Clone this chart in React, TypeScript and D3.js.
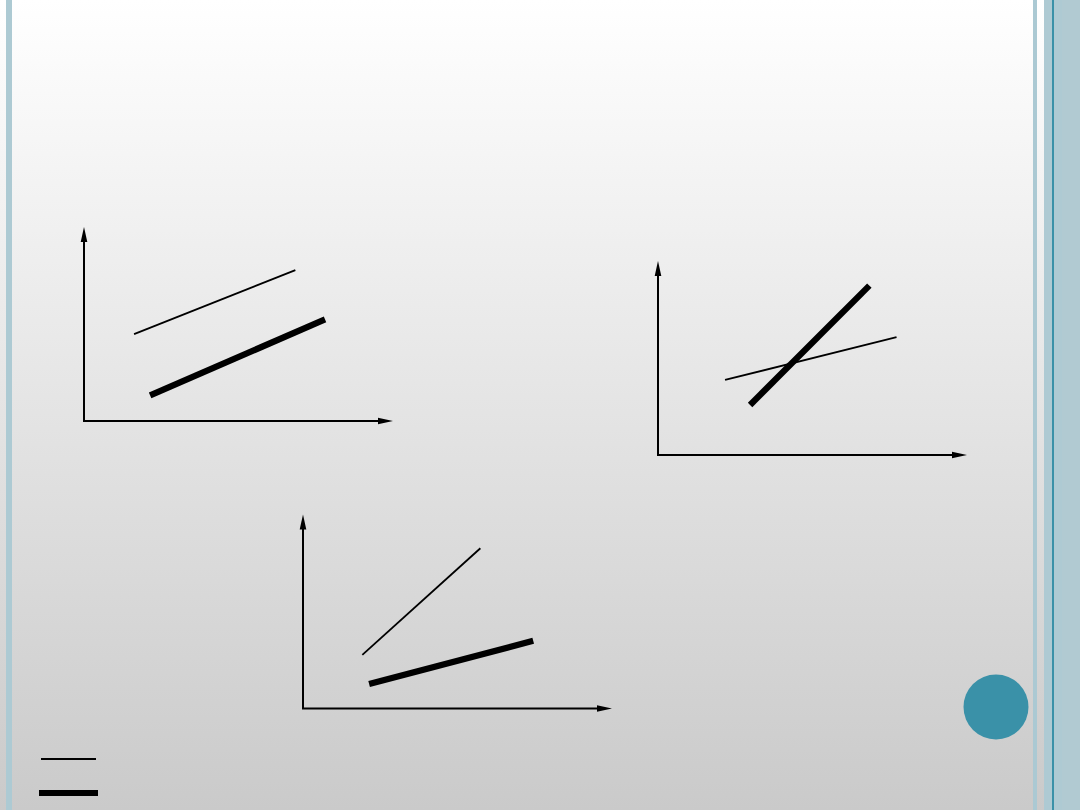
import * as d3 from "d3"

// each panel: axes run 0..10 on both x and y
const axisDomain: [number, number] = [0, 10]

// thin series per panel: [start, end] in axis units
const thinLines: [number, number][][] = [
  [[1.62, 4.48], [6.84, 7.78]],
  [[2.17, 3.87], [7.72, 6.07]],
  [[1.92, 2.76], [5.74, 8.26]],
]

// thick series per panel
const thickLines: [number, number][][] = [
  [[2.14, 1.32], [7.8, 5.24]],
  [[2.98, 2.58], [6.84, 8.73]],
  [[2.14, 1.26], [7.45, 3.49]],
]

const W = 1080
const H = 810

// layout: axis origin of each panel on the slide
const panelOrigins = [
  { x: 84, y: 421 },
  { x: 658, y: 455 },
  { x: 303, y: 708.5 },
]
const panelW = 309
const panelH = 194

const ARROW_LEN = 15
const ARROW_HALF = 3.3

function Panel({ idx }: { idx: number }) {
  const o = panelOrigins[idx]
  const x = d3.scaleLinear().domain(axisDomain).range([o.x, o.x + panelW])
  const y = d3.scaleLinear().domain(axisDomain).range([o.y, o.y - panelH])
  const line = d3.line<[number, number]>()
    .x(d => x(d[0]))
    .y(d => y(d[1]))

  const x0 = x(axisDomain[0])
  const x1 = x(axisDomain[1])
  const y0 = y(axisDomain[0])
  const y1 = y(axisDomain[1])

  return (
    <g>
      {/* y axis */}
      <line x1={x0} y1={y0} x2={x0} y2={y1 + ARROW_LEN - 1} stroke="#000" strokeWidth={2} />
      <path
        d={`M${x0},${y1} L${x0 - ARROW_HALF},${y1 + ARROW_LEN} L${x0 + ARROW_HALF},${y1 + ARROW_LEN} Z`}
        fill="#000"
      />
      {/* x axis */}
      <line x1={x0 - 1} y1={y0} x2={x1 - ARROW_LEN + 1} y2={y0} stroke="#000" strokeWidth={2} />
      <path
        d={`M${x1},${y0} L${x1 - ARROW_LEN},${y0 - ARROW_HALF} L${x1 - ARROW_LEN},${y0 + ARROW_HALF} Z`}
        fill="#000"
      />
      <path d={line(thinLines[idx]) ?? ""} fill="none" stroke="#000" strokeWidth={1.8} />
      <path d={line(thickLines[idx]) ?? ""} fill="none" stroke="#000" strokeWidth={6.3} />
    </g>
  )
}

export default function App() {
  return (
    <svg
      width={W}
      height={H}
      style={{ position: "absolute", left: 0, top: 0, display: "block" }}
    >
      <defs>
        <linearGradient id="bg" x1="0" y1="0" x2="0" y2="1">
          <stop offset="0" stopColor="#ffffff" />
          <stop offset="1" stopColor="#cacaca" />
        </linearGradient>
      </defs>
      <rect width={W} height={H} fill="url(#bg)" />

      {/* decorative stripes */}
      <rect x={6} y={0} width={6} height={H} fill="#adcad3" />
      <rect x={1033} y={0} width={4} height={H} fill="#abc9d3" />
      <rect x={1044} y={0} width={18} height={H} fill="#aecad3" />
      <rect x={1052} y={0} width={2} height={H} fill="#3a91a8" />
      <rect x={1062} y={0} width={18} height={H} fill="#b1cad2" />

      {[0, 1, 2].map(i => <Panel key={i} idx={i} />)}

      {/* legend */}
      <line x1={41} y1={759} x2={96} y2={759} stroke="#000" strokeWidth={1.8} />
      <line x1={39} y1={793} x2={98} y2={793} stroke="#000" strokeWidth={6} />

      <circle cx={996} cy={707} r={32.5} fill="#3a91a8" />
    </svg>
  )
}
